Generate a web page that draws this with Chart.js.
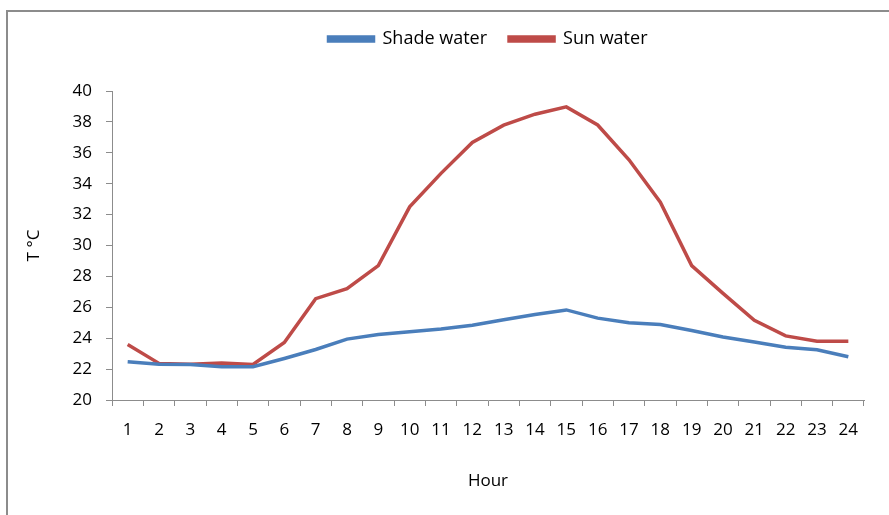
<!DOCTYPE html>
<html>
<head>
<meta charset="utf-8">
<script src="https://cdn.jsdelivr.net/npm/chart.js@4.4.0/dist/chart.umd.min.js"></script>
<style>
  html, body { margin: 0; padding: 0; background: #fff; }
  #wrap { position: relative; width: 889px; height: 515px; }
  #frame { position: absolute; left: 6px; top: 10px; width: 900px; height: 520px;
           border-left: 2px solid #8c8c8c; border-top: 2px solid #8c8c8c; pointer-events: none; }
</style>
</head>
<body>
<div id="wrap">
  <canvas id="chart" width="889" height="515"></canvas>
  <div id="frame"></div>
</div>
<script>
const hours = ['1','2','3','4','5','6','7','8','9','10','11','12','13','14','15','16','17','18','19','20','21','22','23','24'];
const shadeWater = [22.47, 22.32, 22.3, 22.15, 22.15, 22.69, 23.27, 23.94, 24.24, 24.41, 24.6, 24.84,
                    25.2, 25.53, 25.83, 25.3, 25.0, 24.88, 24.5, 24.08, 23.76, 23.42, 23.25, 22.8];
const sunWater = [23.6, 22.37, 22.32, 22.4, 22.3, 23.72, 26.56, 27.2, 28.7, 32.5, 34.67, 36.67,
                  37.79, 38.5, 38.97, 37.8, 35.55, 32.8, 28.7, 26.9, 25.16, 24.15, 23.8, 23.8];

const font = { family: "'Open Sans', sans-serif", size: 17 };
const axisGrey = '#8c8c8c';

// push the plot down below the legend, like the original
const legendSpace = {
    id: 'legendSpace',
    beforeInit(chart) {
        const fit = chart.legend.fit;
        chart.legend.fit = function () {
            fit.bind(chart.legend)();
            this.height += 33;
        };
    }
};

const ctx = document.getElementById('chart').getContext('2d');
const chart = new Chart(ctx, {
    type: 'line',
    data: {
        labels: hours,
        datasets: [
            {
                label: 'Shade water',
                data: shadeWater,
                borderColor: '#4a7ebb',
                backgroundColor: '#4a7ebb',
                borderWidth: 3.5,
                pointRadius: 0,
                tension: 0
            },
            {
                label: 'Sun water',
                data: sunWater,
                borderColor: '#be4b48',
                backgroundColor: '#be4b48',
                borderWidth: 3.5,
                pointRadius: 0,
                tension: 0
            }
        ]
    },
    options: {
        responsive: false,
        animation: { duration: 0 },
        layout: { padding: { left: 20, right: 25, top: 8, bottom: 20 } },
        plugins: {
            tooltip: { enabled: false },
            legend: {
                position: 'top',
                fullSize: false,
                labels: {
                    color: '#000',
                    font: { family: font.family, size: 18 },
                    boxWidth: 45,
                    boxHeight: 4,
                    padding: 22
                }
            }
        },
        scales: {
            x: {
                offset: true,
                grid: { display: true, drawOnChartArea: false, offset: true, tickLength: 6, color: axisGrey },
                border: { color: axisGrey, width: 1 },
                ticks: { color: '#000', font: font, padding: 14, maxRotation: 0, autoSkip: false },
                title: { display: true, text: 'Hour', color: '#000', font: font, padding: { top: 22 } },
                afterFit: function (scale) { scale.height = 95; }
            },
            y: {
                min: 20,
                max: 40,
                grid: { display: true, drawOnChartArea: false, tickLength: 6, color: axisGrey },
                border: { color: axisGrey, width: 1 },
                ticks: { stepSize: 2, color: '#000', font: font, padding: 14 },
                title: { display: true, text: 'T °C', color: '#000', font: font, padding: { bottom: 20 } },
                afterFit: function (scale) { scale.width = 92; }
            }
        }
    },
    plugins: [legendSpace]
});
</script>
</body>
</html>
